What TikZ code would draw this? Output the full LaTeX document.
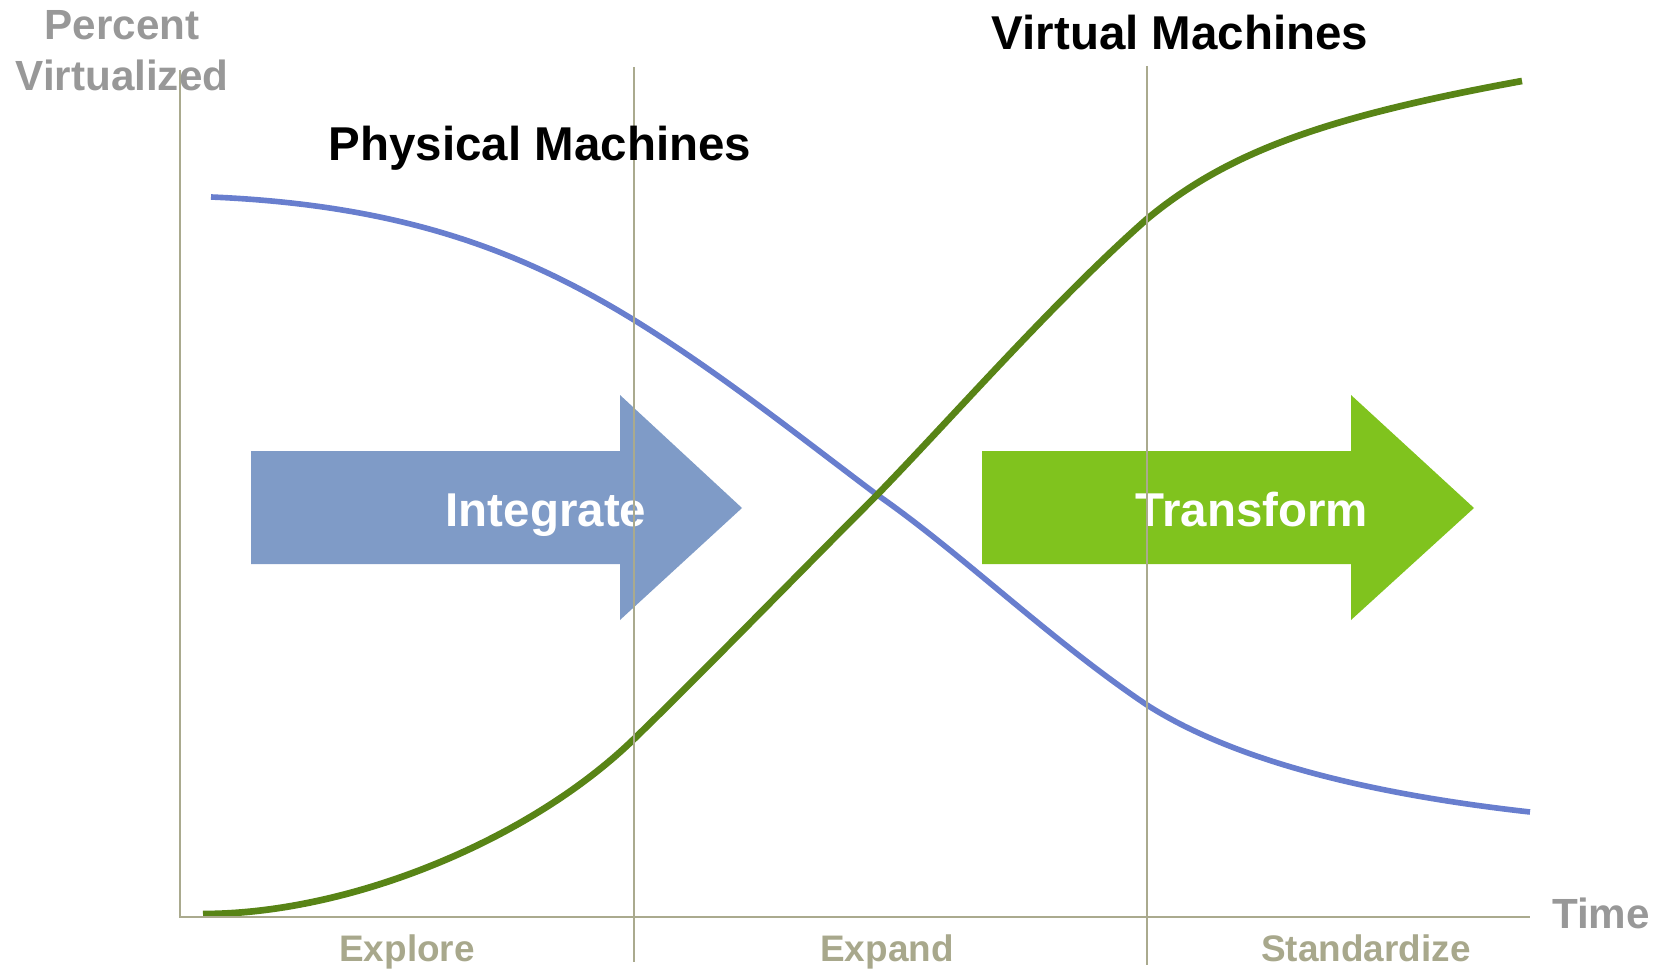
\documentclass[tikz,border=0pt]{standalone}
\usepackage{fontspec}
\setmainfont{Liberation Sans}
\usepackage{tikz}
\usetikzlibrary{calc}

\definecolor{axisgray}{RGB}{170,170,142}
\definecolor{phasegray}{RGB}{168,168,140}
\definecolor{labelgray}{RGB}{152,152,152}
\definecolor{physblue}{RGB}{104,126,206}
\definecolor{virtgreen}{RGB}{88,132,22}
\definecolor{intblue}{RGB}{127,155,199}
\definecolor{trgreen}{RGB}{128,195,30}

\begin{document}
\begin{tikzpicture}[x=0.01cm, y=-0.01cm,
  axis/.style={draw=axisgray, line width=0.45pt},
  txt/.style={inner sep=0pt, anchor=base, font=\bfseries\fontsize{#1}{#1}\selectfont}]
\useasboundingbox (0,0) rectangle (1672,970);

% block arrows
\fill[intblue] (251,451) -- (620,451) -- (620,395) -- (742,508) -- (620,620) -- (620,564) -- (251,564) -- cycle;
\fill[trgreen] (982,451) -- (1351,451) -- (1351,395) -- (1474,508) -- (1351,620) -- (1351,564) -- (982,564) -- cycle;
\node (integ) at (546,526) [txt=13.5, text=white] {Integrate};
\node (transf) at (1252,526) [txt=13.5, text=white] {Transform};

% curves
\draw[physblue, line width=1.6pt] (211,197) .. controls (400,205) and (520,250) .. (634,320)
  .. controls (720,373) and (800,437) .. (876,494)
  .. controls (960,552) and (1050,640) .. (1147,705)
  .. controls (1230,758) and (1360,793) .. (1530,812);
\draw[virtgreen, line width=1.9pt] (203,914) .. controls (350,914) and (530,840) .. (634,739)
  .. controls (700,675) and (800,572) .. (876,496)
  .. controls (950,420) and (1055,300) .. (1147,219)
  .. controls (1228,152) and (1325,117) .. (1522,81);

% axes and phase dividers
\coordinate (ytop) at (180,70);
\coordinate (orig) at (180,917);
\coordinate (xend) at (1530,917);
\coordinate (d1top) at (634,67);
\coordinate (d1bot) at (634,962);
\coordinate (d2top) at (1147,66);
\coordinate (d2bot) at (1147,965);
\draw[axis] (ytop) -- (orig) -- (xend);
\draw[axis] (d1top) -- (d1bot);
\draw[axis] (d2top) -- (d2bot);

% labels
\node (pct) at (122,40) [txt=12, text=labelgray] {Percent};
\node (virtz) at (122,91) [txt=12, text=labelgray] {Virtualized};
\node (time) at (1601,928) [txt=12, text=labelgray] {Time};
\node (phys) at (540,161) [txt=13.5] {Physical Machines};
\node (vm) at (1180,50) [txt=13.5] {Virtual Machines};
\node (explore) at (407,961) [txt=10.5, text=phasegray] {Explore};
\node (expand) at (887,961) [txt=10.5, text=phasegray] {Expand};
\node (stdz) at (1366,961) [txt=10.5, text=phasegray] {Standardize};
\end{tikzpicture}
\end{document}
